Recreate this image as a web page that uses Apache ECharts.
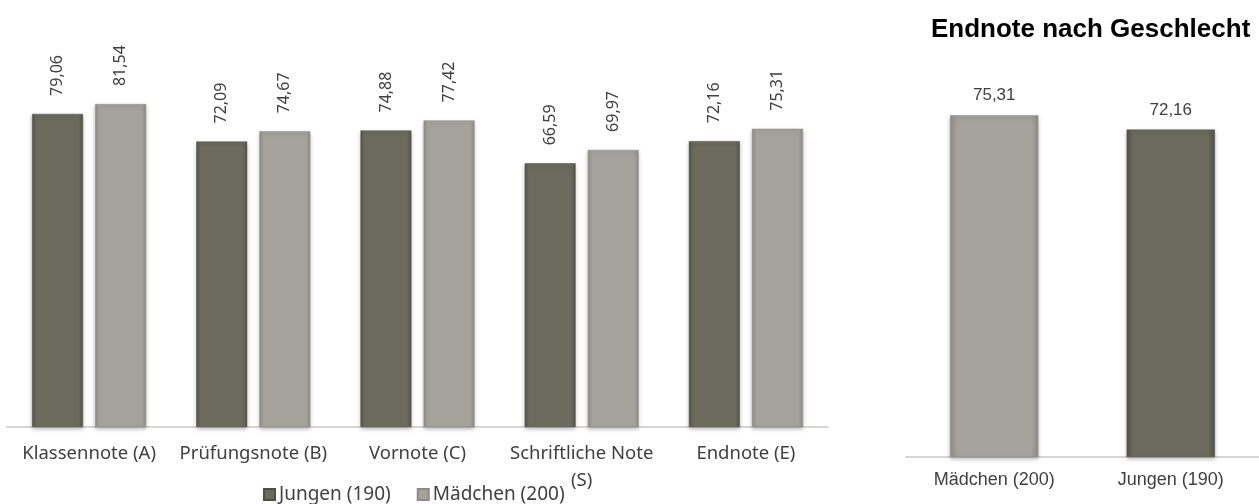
<!DOCTYPE html>
<html>
<head>
<meta charset="utf-8">
<script src="https://cdn.jsdelivr.net/npm/echarts@6/dist/echarts.min.js"></script>
<style>
  html, body { margin: 0; padding: 0; background: #fff; }
  #chart { width: 1259px; height: 504px; }
</style>
</head>
<body>
<div id="chart"></div>
<script>
const categories = ['Klassennote (A)', 'Prüfungsnote (B)', 'Vornote (C)', 'Schriftliche Note\n(S)', 'Endnote (E)']
const jungen = [79.06, 72.09, 74.88, 66.59, 72.16]
const maedchen = [81.54, 74.67, 77.42, 69.97, 75.31]
const genderCategories = ['Mädchen (200)', 'Jungen (190)']
const endnote = [75.31, 72.16]
const genderKeys = ['m', 'j']

const DARK = '#6b6a5d'
const LIGHT = '#a4a29b'

// leichte Kanten links/rechts, damit die Balken nicht ganz flach wirken
const barFill = (base, edge) => new echarts.graphic.LinearGradient(0, 0, 1, 0, [
  { offset: 0, color: edge },
  { offset: 0.08, color: base },
  { offset: 0.92, color: base },
  { offset: 1, color: edge }
])

const darkFill = barFill(DARK, '#55544a')
const lightFill = barFill(LIGHT, '#8f8d86')

const fmt = (p) => p.value.toFixed(2).replace('.', ',')

const shadow = {
  shadowBlur: 4,
  shadowColor: 'rgba(0,0,0,0.25)',
  shadowOffsetY: 2
}

const darkStyle = { color: darkFill, borderColor: '#4f4e45', borderWidth: 0.5, ...shadow }
const lightStyle = { color: lightFill, borderColor: '#8c8a83', borderWidth: 0.5, ...shadow }

const rotatedLabel = {
  show: true,
  position: 'top',
  rotate: 90,
  align: 'left',
  verticalAlign: 'middle',
  distance: 18,
  fontSize: 16,
  color: '#404040',
  formatter: fmt
}

const chart = echarts.init(document.getElementById('chart'))

chart.setOption({
  backgroundColor: '#fff',
  animation: false,
  textStyle: { fontFamily: 'Noto Sans' },
  title: {
    text: 'Endnote nach Geschlecht',
    left: 926,
    top: 12,
    textStyle: {
      fontFamily: 'Liberation Sans',
      fontSize: 26,
      fontWeight: 'bold',
      color: '#000'
    }
  },
  legend: {
    data: ['Jungen (190)', 'Mädchen (200)'],
    left: 258,
    top: 480,
    icon: 'rect',
    itemWidth: 11,
    itemHeight: 11,
    itemGap: 26,
    textStyle: { fontSize: 19, color: '#404040', padding: [0, 0, 0, -1] }
  },
  grid: [
    { left: 7, top: 31, width: 821, height: 396 },
    { left: 906, top: 94, width: 372, height: 363 }
  ],
  xAxis: [
    {
      type: 'category',
      gridIndex: 0,
      data: categories,
      axisTick: { show: false },
      axisLine: { lineStyle: { color: '#d6d6d6', width: 2 } },
      axisLabel: {
        fontSize: 18.5,
        color: '#404040',
        margin: 13,
        lineHeight: 27,
        interval: 0
      }
    },
    {
      type: 'category',
      gridIndex: 1,
      data: genderCategories,
      axisTick: { show: false },
      axisLine: { lineStyle: { color: '#d6d6d6', width: 2 } },
      axisLabel: {
        fontFamily: 'Liberation Sans',
        fontSize: 18,
        color: '#404040',
        margin: 14,
        interval: 0
      }
    }
  ],
  yAxis: [
    { type: 'value', gridIndex: 0, min: 0, max: 100, show: false },
    { type: 'value', gridIndex: 1, min: 0, max: 80, show: false }
  ],
  series: [
    {
      name: 'Jungen (190)',
      type: 'bar',
      xAxisIndex: 0,
      yAxisIndex: 0,
      data: jungen,
      barWidth: '31%',
      barGap: '24%',
      itemStyle: darkStyle,
      label: rotatedLabel
    },
    {
      name: 'Mädchen (200)',
      type: 'bar',
      xAxisIndex: 0,
      yAxisIndex: 0,
      data: maedchen,
      barWidth: '31%',
      barGap: '24%',
      itemStyle: lightStyle,
      label: rotatedLabel
    },
    {
      name: 'Endnote',
      type: 'bar',
      xAxisIndex: 1,
      yAxisIndex: 1,
      barWidth: '50%',
      data: endnote.map((v, i) => ({
        value: v,
        itemStyle: genderKeys[i] === 'm' ? lightStyle : darkStyle
      })),
      label: {
        show: true,
        position: 'top',
        distance: 11,
        fontFamily: 'Liberation Sans',
        fontSize: 17,
        color: '#404040',
        formatter: fmt
      }
    }
  ]
})
</script>
</body>
</html>
